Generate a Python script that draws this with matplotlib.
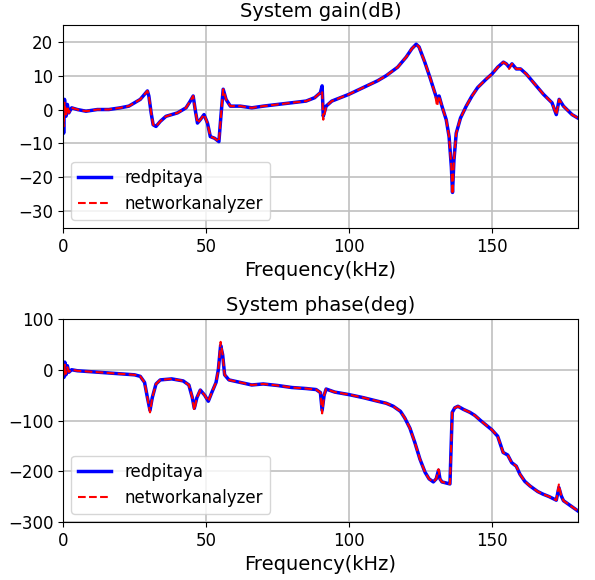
import matplotlib
matplotlib.use('Agg')
import matplotlib.pyplot as plt

# gain (dB), frequency in kHz
gain_freq = [0, 0.2, 0.5, 1, 1.5, 2, 3, 5, 8, 12, 16, 20, 23, 25, 27, 28.5, 29.5, 30, 30.8, 31.5,
             32.5, 34, 36, 40, 43, 44.5, 45.5, 46.2, 47, 48, 49.3, 50.5, 51.5, 53, 54.5, 55.2, 56, 57,
             58.5, 62, 66, 70, 75, 80, 85, 88, 90, 90.6, 91, 92, 94, 97, 100, 105, 110, 113, 117,
             120, 122, 123.5, 124.5, 126.5, 128.5, 130, 130.8, 131.5, 132.5, 134, 135, 135.8, 136.2,
             136.7, 137.5, 139, 141, 143, 145, 148, 150, 152, 154, 155, 156, 157, 158.5, 160, 162,
             165, 168, 171, 172.5, 173.5, 175, 178, 180]
gain_redpitaya = [0, -7, 3, -2, 1.5, -1, 0.5, 0, -0.5, 0, 0, 0.5, 1, 2, 3, 4.5, 5.5, 4, -1, -4.5,
                  -5, -3.5, -2, -1, 0.5, 2.5, 4, 0, -4, -3, -1.5, -4, -8, -8.5, -9.5, -2, 6, 3,
                  1, 1, 0.5, 1, 1.5, 2, 2.5, 3.5, 5, 7, -2, 1, 2.5, 3.5, 4.5, 6.5, 8.5, 10, 12.5,
                  15.5, 18, 19.3, 18.5, 14, 9, 5, 3, 4, 1, -3, -8, -17, -24.5,
                  -15, -7, -2.5, 1, 4, 6.5, 9, 10.5, 12.5, 14, 13.5, 12.5, 13.5, 12, 12, 10.5,
                  7.5, 4.5, 2, -1.5, 3, 1, -1.5, -2.5]
gain_network = [0, -5, 2, -2, 1, -1, 0.5, 0, -0.5, 0, 0, 0.5, 1, 2, 3, 4.5, 5.5, 4, -1, -4.5,
                -5, -3.5, -2, -1, 0.5, 2.5, 4, 0, -4, -3, -1.5, -4, -8, -8.5, -9.5, -2, 6, 3,
                1, 1, 0.5, 1, 1.5, 2, 2.5, 3.5, 5, 5.5, -3, 1, 2.5, 3.5, 4.5, 6.5, 8.5, 10, 12.5,
                15.5, 18, 19.3, 18.5, 14, 9, 5, 1, 4, 1, -3, -8, -17, -25,
                -15, -7, -2.5, 1, 4, 6.5, 9, 10.5, 12.5, 14, 13.5, 12, 13.5, 12, 12, 10.5,
                7.5, 4.5, 2, -1.5, 3, 1, -1.5, -2.5]

# phase (deg)
phase_freq = [0, 0.3, 0.6, 1, 1.5, 2, 3, 5, 10, 15, 20, 25, 27, 28.5, 29.5, 30.4, 31.2, 32.5, 34,
              38, 42, 44, 45.2, 45.9, 46.8, 48, 49.5, 50.8, 52, 53.5, 54.3, 55.1, 55.8, 56.5, 58,
              62, 66, 70, 75, 80, 85, 88.5, 90, 90.6, 91.3, 92, 95, 100, 105, 110, 113, 115.5,
              118, 119.5, 121.3, 123, 124.8, 126.6, 128, 129.5, 130.5, 131.3, 131.8, 132.5, 135.3,
              136.1, 137, 138.1, 140, 142.3, 144, 146, 149.9, 152, 153.9, 155.5, 156.9, 158.5,
              159.8, 161.5, 163.3, 166, 167.8, 170, 172.5, 173.4, 174.2, 175, 177.5, 180]
phase_redpitaya = [10, -15, 15, -10, 8, -5, 0, -2, -4, -6, -8, -10, -13, -25, -55, -80, -55, -28,
                   -20, -18, -22, -30, -55, -76, -55, -40, -50, -62, -45, -25, 0, 48, 30, -10,
                   -20, -25, -30, -28, -31, -35, -37, -39, -45, -80, -50, -38, -44, -49, -55,
                   -62, -66, -72, -82, -95, -115, -143, -176, -202, -215, -221, -215, -198,
                   -215, -221, -225, -84, -75, -72, -78, -84, -90, -100, -118, -131, -163,
                   -168, -183, -190, -206, -220, -229, -240, -245, -250, -257, -232, -248,
                   -258, -268, -278]
phase_network = [5, -10, 10, -8, 5, -4, 0, -2, -4, -6, -8, -10, -13, -25, -55, -84, -55, -28,
                 -20, -18, -22, -30, -55, -80, -55, -40, -50, -62, -45, -25, 0, 55, 30, -10,
                 -20, -25, -30, -28, -31, -35, -37, -39, -45, -86, -50, -38, -44, -49, -55,
                 -62, -66, -72, -82, -95, -115, -143, -176, -202, -215, -221, -215, -196,
                 -215, -221, -225, -84, -75, -72, -78, -84, -90, -100, -118, -131, -163,
                 -168, -183, -190, -206, -220, -229, -240, -245, -250, -257, -226, -248,
                 -258, -268, -278]

fig = plt.figure(figsize=(5.95, 5.8), dpi=100)
ax1 = fig.add_axes([0.106, 0.607, 0.865, 0.35])
ax2 = fig.add_axes([0.106, 0.100, 0.865, 0.35])

panels = [
    (ax1, gain_freq, gain_redpitaya, gain_network, 'System gain(dB)', (-35, 25), [-30, -20, -10, 0, 10, 20]),
    (ax2, phase_freq, phase_redpitaya, phase_network, 'System phase(deg)', (-300, 100), [-300, -200, -100, 0, 100]),
]

for ax, f, rp, na, title, ylim, yticks in panels:
    ax.plot(f, rp, color='b', lw=2.5, label='redpitaya')
    ax.plot(f, na, color='r', ls='--', lw=1.5, label='networkanalyzer')
    ax.set_xlim(0, 180)
    ax.set_ylim(*ylim)
    ax.set_xticks([0, 50, 100, 150])
    ax.set_yticks(yticks)
    ax.grid(True, color='#c0c0c0', lw=1.2)
    ax.set_axisbelow(True)
    ax.tick_params(labelsize=12)
    ax.set_title(title, fontsize=14)
    ax.set_xlabel('Frequency(kHz)', fontsize=14)
    ax.legend(loc='lower left', fontsize=12)

plt.savefig('out.png', dpi=100)
